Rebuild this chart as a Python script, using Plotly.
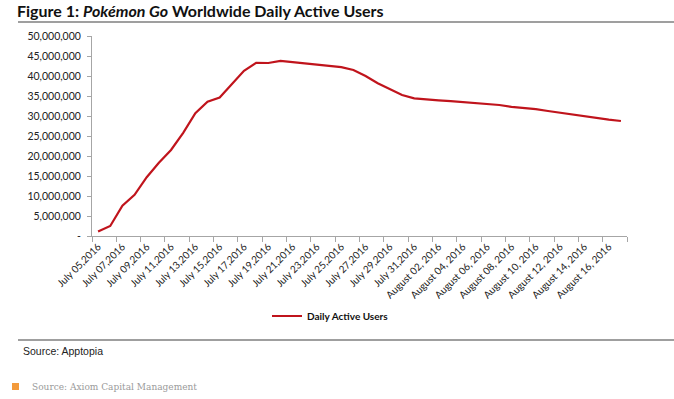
import plotly.graph_objects as go

# ---- data ----
dates = [
    "July 05,2016", "July 06,2016", "July 07,2016", "July 08,2016", "July 09,2016",
    "July 10,2016", "July 11,2016", "July 12,2016", "July 13,2016", "July 14,2016",
    "July 15,2016", "July 16,2016", "July 17,2016", "July 18,2016", "July 19,2016",
    "July 20,2016", "July 21,2016", "July 22,2016", "July 23,2016", "July 24,2016",
    "July 25,2016", "July 26,2016", "July 27,2016", "July 28,2016", "July 29,2016",
    "July 30,2016", "July 31,2016", "August 01, 2016", "August 02, 2016", "August 03, 2016",
    "August 04, 2016", "August 05, 2016", "August 06, 2016", "August 07, 2016", "August 08, 2016",
    "August 09, 2016", "August 10, 2016", "August 11, 2016", "August 12, 2016", "August 13, 2016",
    "August 14, 2016", "August 15, 2016", "August 16, 2016", "August 17, 2016",
]
daily_active_users = [
    1.1e6, 2.5e6, 7.6e6, 10.3e6, 14.7e6, 18.3e6, 21.5e6, 25.8e6, 30.7e6, 33.6e6,
    34.6e6, 37.9e6, 41.3e6, 43.3e6, 43.25e6, 43.8e6, 43.5e6, 43.2e6, 42.9e6, 42.5e6,
    42.2e6, 41.5e6, 40.0e6, 38.2e6, 36.7e6, 35.25e6, 34.4e6, 34.1e6, 33.9e6, 33.7e6,
    33.5e6, 33.3e6, 33.1e6, 32.75e6, 32.3e6, 32.05e6, 31.7e6, 31.25e6, 30.8e6, 30.4e6,
    30.0e6, 29.5e6, 29.1e6, 28.75e6,
]
y_tickvals = [0, 5e6, 10e6, 15e6, 20e6, 25e6, 30e6, 35e6, 40e6, 45e6, 50e6]
y_ticktext = ["-", "5,000,000", "10,000,000", "15,000,000", "20,000,000", "25,000,000",
              "30,000,000", "35,000,000", "40,000,000", "45,000,000", "50,000,000"]
series_name = "Daily Active Users"

# ---- layout geometry (page pixels; body margin removed below) ----
W, H = 674, 399
L, R, T, B = 92, 627, 36, 236


def px(x):
    return (x - L) / (R - L)


def py(y):
    return (B - y) / (B - T)


idx = list(range(len(dates)))
label_idx = idx[::2]

fig = go.Figure()
fig.add_trace(go.Scatter(
    x=idx, y=daily_active_users, mode="lines", name="<b>" + series_name + "</b>",
    line=dict(color="#C0141C", width=2.2),
))

font_main = "Lato, Open Sans, sans-serif"

fig.update_layout(
    width=W, height=H,
    margin=dict(l=L, r=W - R, t=T, b=H - B),
    paper_bgcolor="white", plot_bgcolor="white",
    showlegend=True,
    legend=dict(orientation="h", x=px(267), y=py(316), xanchor="left", yanchor="middle",
                font=dict(family=font_main, size=10, color="#111"),
                bgcolor="rgba(0,0,0,0)"),
    title=dict(
        text="<b>Figure 1: <i>Pokémon Go</i> Worldwide Daily Active Users</b>",
        x=17 / W, xanchor="left", xref="container",
        y=1 - 11 / H, yanchor="middle", yref="container",
        font=dict(family=font_main, size=16, color="#111"),
    ),
    xaxis=dict(
        range=[-0.5, len(dates) - 0.5],
        tickmode="array", tickvals=label_idx, ticktext=[dates[i] for i in label_idx],
        tickangle=-45, ticks="", showgrid=False, zeroline=False,
        showline=True, linecolor="#a6a6a6", linewidth=1,
        tickfont=dict(family=font_main, size=10, color="#222"),
        minor=dict(ticks="outside", tick0=-0.5, dtick=2, ticklen=5, tickcolor="#a6a6a6",
                   showgrid=False),
    ),
    yaxis=dict(
        range=[0, 50e6], tickmode="array", tickvals=y_tickvals, ticktext=y_ticktext,
        ticks="outside", ticklen=4, tickcolor="#a6a6a6", ticklabelstandoff=4,
        showgrid=False, zeroline=False, showline=True, linecolor="#a6a6a6", linewidth=1,
        tickfont=dict(family=font_main, size=10.5, color="#222"),
    ),
    shapes=[
        dict(type="line", xref="paper", yref="paper", x0=px(18), x1=px(674), y0=py(22), y1=py(22),
             line=dict(color="#7f7f7f", width=1.5)),
        dict(type="line", xref="paper", yref="paper", x0=px(18), x1=px(674), y0=py(340), y1=py(340),
             line=dict(color="#7f7f7f", width=1.5)),
        dict(type="rect", xref="paper", yref="paper", x0=px(12), x1=px(19), y0=py(390), y1=py(383),
             line=dict(width=0), fillcolor="#F39A3B"),
    ],
    annotations=[
        dict(text="Source: Apptopia", xref="paper", yref="paper", x=px(21), y=py(351),
             xanchor="left", yanchor="middle", showarrow=False,
             font=dict(family="Liberation Sans, Arial", size=10.5, color="#222")),
        dict(text="Source: Axiom Capital Management", xref="paper", yref="paper", x=px(30), y=py(387),
             xanchor="left", yanchor="middle", showarrow=False,
             font=dict(family="DejaVu Serif, Liberation Serif, serif", size=9, color="#9a9a9a")),
    ],
)

fig.write_html(
    "out.html",
    config={"displayModeBar": False},
    post_script="document.body.style.margin='0px';document.body.style.overflow='hidden';",
)
